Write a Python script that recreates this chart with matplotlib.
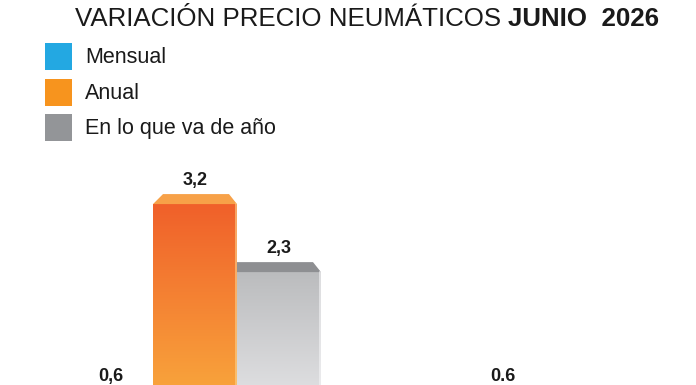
import matplotlib
matplotlib.use("Agg")
import matplotlib.pyplot as plt
import numpy as np
from matplotlib.patches import Polygon, Rectangle
from matplotlib.colors import LinearSegmentedColormap, to_rgb

# ---------------- data ----------------
title_regular = "VARIACIÓN PRECIO NEUMÁTICOS "
title_bold = "JUNIO  2026"
series_names = ["Mensual", "Anual", "En lo que va de año"]
legend_colors = ["#23A8E2", "#F7941E", "#939598"]
groups = ["Grupo 1", "Grupo 2"]
mensual = [0.6, 0.6]
anual = [3.2, np.nan]
en_lo_que_va = [2.3, np.nan]
value_labels = [["0,6", "3,2", "2,3"], ["0.6", "", ""]]

plt.rcParams["font.family"] = ["Liberation Sans", "DejaVu Sans"]

W, H, DPI = 696, 385, 100
fig = plt.figure(figsize=(W / DPI, H / DPI), dpi=DPI)
fig.patch.set_facecolor("white")

# axes extends below the figure (bars are cut off at the bottom)
base_px = 446.0
px_y = 75.6   # pixels per y unit
px_x = 392.0  # pixels per x unit
ax = fig.add_axes([0, (H - base_px) / H, 1, base_px / H])
ax.set_xlim(-195 / px_x, (W - 195) / px_x)
ax.set_ylim(0, base_px / px_y)
ax.axis("off")

bw = 84 / px_x
x = np.arange(len(groups))
offsets = [-bw, 0.0, bw]
data = [mensual, anual, en_lo_que_va]

grad_colors = [
    ("#1E90D0", "#4FC0F0"),
    ("#F0602A", "#FBB841"),
    ("#BBBCBE", "#EFEFF1"),
]
bevel_colors = ["#5CC3F0", "#F7A148", "#8E8F92"]
bev_h = 10 / px_y

def fade(c, f):
    r = np.array(to_rgb(c))
    return tuple(r + (1 - r) * f)

for si, (vals, off) in enumerate(zip(data, offsets)):
    for gi, v in enumerate(vals):
        if np.isnan(v):
            continue
        xc = x[gi] + off
        x0, x1 = xc - bw / 2, xc + bw / 2
        bars = ax.bar(xc, v, width=bw, color=grad_colors[si][0], linewidth=0, zorder=2)
        patch = bars[0]
        cmap = LinearSegmentedColormap.from_list("g", [grad_colors[si][1], grad_colors[si][0]])
        grad = np.linspace(0, 1, 256).reshape(-1, 1)
        im = ax.imshow(grad, extent=(x0, x1, 0, v), origin="lower", aspect="auto",
                       cmap=cmap, zorder=3, interpolation="bicubic")
        im.set_clip_path(patch)
        ax.plot([x1 - 1 / px_x, x1 - 1 / px_x], [0, v], color=fade(grad_colors[si][1], 0.4),
                lw=1.2, zorder=4, alpha=0.7)
        inl = 10 / px_x if si != 2 else 0.0
        inr = 8 / px_x
        poly = Polygon([(x0, v), (x1, v), (x1 - inr, v + bev_h), (x0 + inl, v + bev_h)],
                       closed=True, facecolor=bevel_colors[si], edgecolor="none", zorder=3)
        ax.add_patch(poly)
        lab = value_labels[gi][si]
        if lab:
            ax.annotate(lab, (xc, v), xytext=(0, 24 * 72 / DPI), textcoords="offset points",
                        ha="center", va="center", fontsize=13, fontweight="bold",
                        color="#1A1A1A", zorder=5)

# ---------------- legend ----------------
sq = 27
ys = [43, 79, 114]
for name, col, yt in zip(series_names, legend_colors, ys):
    fig.patches.append(Rectangle((45 / W, 1 - (yt + sq) / H), sq / W, sq / H,
                                 transform=fig.transFigure, facecolor=col, edgecolor="none"))
    fig.text(85 / W, 1 - (yt + sq / 2 + 1) / H, name, ha="left", va="center",
             fontsize=15.5, color="#1A1A1A")

# ---------------- title (fit to 75..660 px) ----------------
fig.canvas.draw()
r = fig.canvas.get_renderer()
fs0 = 20.0
t1 = fig.text(0, 0, title_regular, fontsize=fs0)
t2 = fig.text(0, 0, title_bold, fontsize=fs0, fontweight="bold")
wtot = t1.get_window_extent(renderer=r).width + t2.get_window_extent(renderer=r).width
t1.remove(); t2.remove()
fs = fs0 * 585.0 / wtot
ty = 1 - 19 / H
t1 = fig.text(75 / W, ty, title_regular, ha="left", va="center", fontsize=fs, color="#1A1A1A")
bb = t1.get_window_extent(renderer=r)
fig.text(bb.x1 / W, ty, title_bold, ha="left", va="center", fontsize=fs,
         fontweight="bold", color="#1A1A1A")

fig.savefig("out.png", dpi=DPI, facecolor="white")
